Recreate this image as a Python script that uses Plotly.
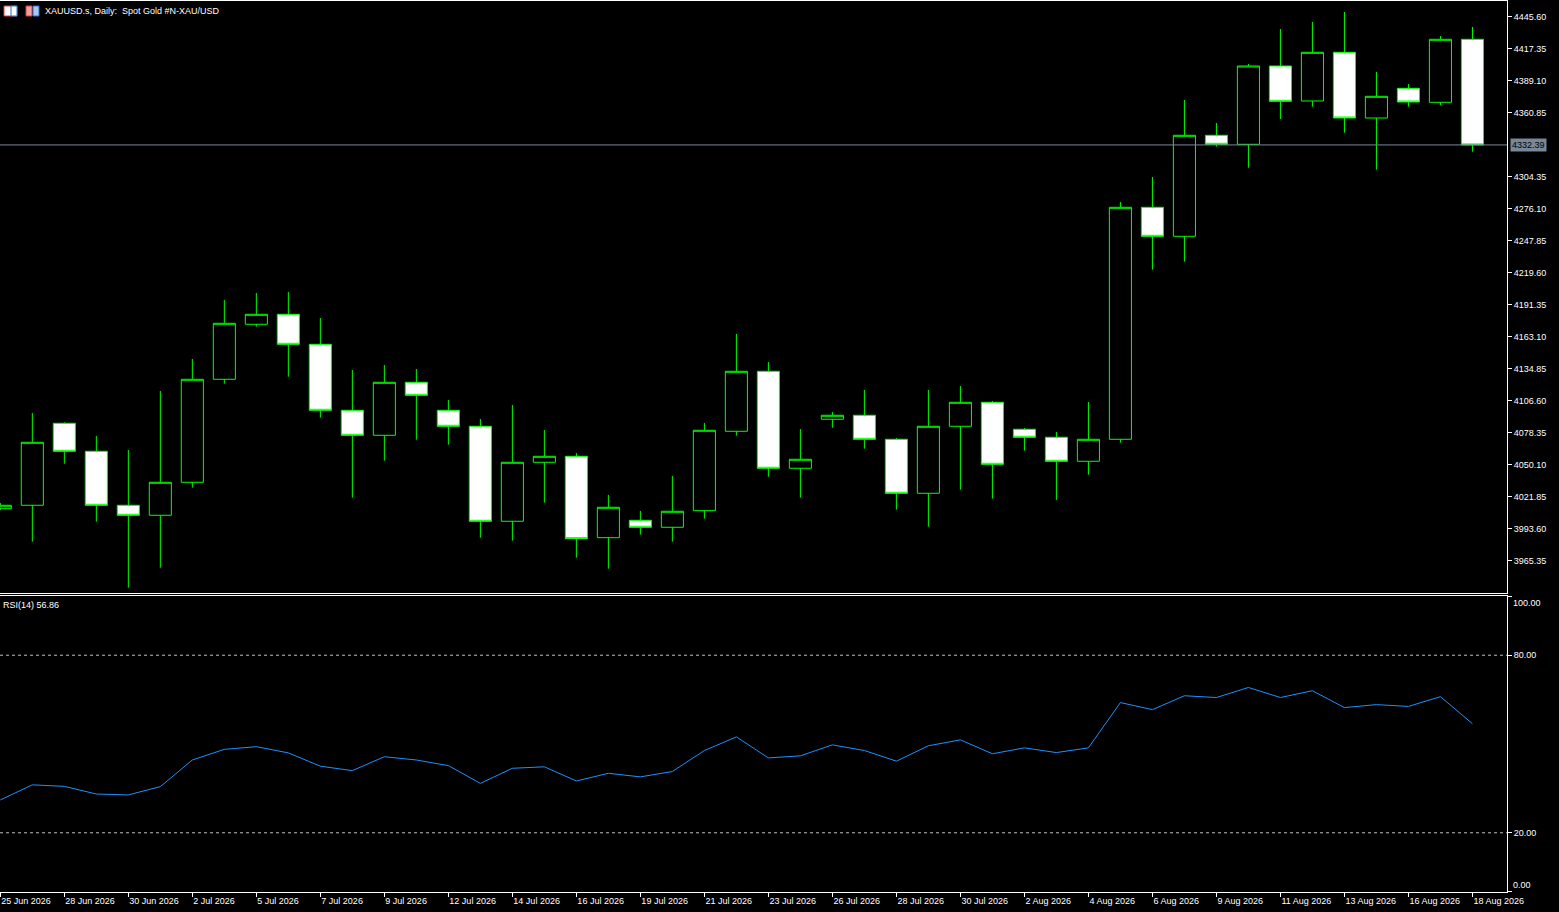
import plotly.graph_objects as go

# ---------------------------------------------------------------------------
# data (XAUUSD daily + RSI 14)
# ---------------------------------------------------------------------------
dates = ["25 Jun 2026", "26 Jun 2026", "28 Jun 2026", "29 Jun 2026", "30 Jun 2026",
         "1 Jul 2026", "2 Jul 2026", "3 Jul 2026", "5 Jul 2026", "6 Jul 2026",
         "7 Jul 2026", "8 Jul 2026", "9 Jul 2026", "10 Jul 2026", "12 Jul 2026",
         "13 Jul 2026", "14 Jul 2026", "15 Jul 2026", "16 Jul 2026", "17 Jul 2026",
         "19 Jul 2026", "20 Jul 2026", "21 Jul 2026", "22 Jul 2026", "23 Jul 2026",
         "24 Jul 2026", "26 Jul 2026", "27 Jul 2026", "28 Jul 2026", "29 Jul 2026",
         "30 Jul 2026", "31 Jul 2026", "2 Aug 2026", "3 Aug 2026", "4 Aug 2026",
         "5 Aug 2026", "6 Aug 2026", "7 Aug 2026", "9 Aug 2026", "10 Aug 2026",
         "11 Aug 2026", "12 Aug 2026", "13 Aug 2026", "14 Aug 2026", "16 Aug 2026",
         "17 Aug 2026", "18 Aug 2026"]

open_ = [4011.25, 4014.26, 4086.65, 4061.93, 4014.26, 4005.43, 4034.56, 4125.49, 4174.04, 4182.87,
         4156.39, 4098.12, 4076.05, 4122.84, 4098.12, 4084.00, 4000.13, 4052.22, 4057.51, 3985.65,
         4001.01, 3994.83, 4009.49, 4079.58, 4132.55, 4046.92, 4090.18, 4093.71, 4072.52, 4024.85,
         4084.00, 4105.18, 4081.35, 4074.29, 4053.10, 4072.52, 4277.33, 4251.73, 4340.90, 4332.95,
         4402.07, 4371.18, 4414.17, 4356.17, 4382.39, 4370.03, 4425.65]
high = [4016.29, 4095.74, 4087.53, 4075.43, 4063.08, 4115.16, 4143.41, 4195.50, 4201.68, 4202.56,
        4179.61, 4133.70, 4138.11, 4134.58, 4107.22, 4090.44, 4102.80, 4080.73, 4060.43, 4023.35,
        4009.22, 4040.12, 4086.91, 4165.48, 4140.76, 4081.61, 4096.62, 4116.04, 4073.67, 4116.04,
        4119.58, 4106.33, 4082.50, 4078.97, 4105.45, 4282.01, 4304.08, 4372.06, 4351.75, 4403.84,
        4434.74, 4440.92, 4449.75, 4396.78, 4386.18, 4428.56, 4436.50]
low = [4010.11, 3982.12, 4050.98, 3999.78, 3941.51, 3959.17, 4029.79, 4121.61, 4171.93, 4127.79,
       4091.59, 4020.96, 4053.63, 4072.17, 4067.75, 3985.65, 3983.00, 4016.55, 3968.00, 3958.29,
       3988.30, 3982.12, 4002.43, 4075.70, 4039.50, 4020.96, 4082.76, 4064.22, 4010.37, 3995.36,
       4028.03, 4020.08, 4062.46, 4018.93, 4041.27, 4069.52, 4222.25, 4229.31, 4330.83, 4312.29,
       4355.29, 4366.14, 4343.19, 4310.53, 4366.14, 4367.38, 4326.42]
close = [4014.26, 4069.87, 4061.93, 4014.26, 4005.43, 4034.56, 4125.49, 4174.93, 4182.87, 4156.39,
         4098.12, 4076.05, 4122.84, 4111.36, 4084.00, 4000.13, 4052.22, 4057.51, 3984.77, 4012.49,
         3994.83, 4008.96, 4080.47, 4132.55, 4046.92, 4054.87, 4093.71, 4072.52, 4024.85, 4084.00,
         4105.18, 4050.45, 4074.29, 4053.10, 4072.52, 4277.33, 4251.73, 4340.90, 4332.95, 4402.07,
         4370.91, 4414.17, 4356.17, 4375.33, 4370.29, 4425.65, 4332.39]

rsi = [31.1, 36.2, 35.7, 33.1, 32.8, 35.6, 44.6, 48.2, 49.1, 47.0,
       42.5, 41.0, 45.7, 44.6, 42.7, 36.7, 41.8, 42.3, 37.5, 40.1,
       38.9, 40.7, 47.8, 52.4, 45.3, 46.0, 49.7, 47.8, 44.2, 49.4,
       51.4, 46.7, 48.7, 47.1, 48.7, 64.0, 61.6, 66.3, 65.7, 69.1,
       65.7, 68.0, 62.3, 63.3, 62.7, 66.0, 56.86]

price_ticks = [3965.35, 3993.60, 4021.85, 4050.10, 4078.35, 4106.60, 4134.85, 4163.10,
               4191.35, 4219.60, 4247.85, 4276.10, 4304.35, 4360.85, 4389.10, 4417.35, 4445.60]
rsi_levels = [20, 80]
last_price = close[-1]

# ---------------------------------------------------------------------------
# figure
# ---------------------------------------------------------------------------
FONT = "Liberation Sans"
GREEN = "#00ff00"
SLATE = "#778899"

fig = go.Figure()

fig.add_trace(go.Candlestick(
    x=dates, open=open_, high=high, low=low, close=close,
    xaxis="x2", yaxis="y2",
    increasing=dict(fillcolor="black", line=dict(color=GREEN, width=1)),
    decreasing=dict(fillcolor="white", line=dict(color=GREEN, width=1)),
    whiskerwidth=0,
    hoverinfo="skip",
    showlegend=False,
))

fig.add_trace(go.Scatter(
    x=dates, y=rsi, mode="lines",
    line=dict(color="#1e90ff", width=1),
    xaxis="x", yaxis="y",
    hoverinfo="skip",
    showlegend=False,
))

axis_common = dict(showgrid=False, zeroline=False, linecolor="white", linewidth=1,
                   tickcolor="white", ticklen=4, tickwidth=1,
                   tickfont=dict(family=FONT, size=9, color="white"))

x_range = [-0.01, 47.08]

fig.update_layout(
    width=1559, height=912,
    margin=dict(l=0, r=52, t=1, b=20),
    paper_bgcolor="black", plot_bgcolor="black",
    boxgap=0.31, boxgroupgap=0,
    xaxis=dict(
        type="category", anchor="y", domain=[0, 1], range=x_range,
        showline=True, mirror=True, ticks="outside",
        tickvals=dates[::2], ticktext=dates[::2],
        ticklabelposition="outside right", tickangle=0,
        rangeslider=dict(visible=False),
        **axis_common,
    ),
    xaxis2=dict(
        type="category", anchor="y2", matches="x", range=x_range,
        showline=True, mirror=True, ticks="", showticklabels=False,
        rangeslider=dict(visible=False),
        **axis_common,
    ),
    yaxis=dict(
        domain=[0, 0.3322], side="right", range=[0, 100],
        showline=True, ticks="outside",
        tickvals=[0, 20, 80, 100], ticktext=["", "20.00", "80.00", ""],
        **axis_common,
    ),
    yaxis2=dict(
        domain=[0.3356, 1], side="right", range=[3936.83, 4459.46],
        showline=True, ticks="outside",
        tickvals=price_ticks, ticktext=["%.2f" % v for v in price_ticks],
        **axis_common,
    ),
)

# RSI 20 / 80 levels
for lvl in rsi_levels:
    fig.add_shape(type="line", xref="x domain", yref="y", x0=0, x1=1, y0=lvl, y1=lvl,
                  line=dict(color="#c0c0c0", width=1, dash="3px,3px"))

# current price line + label
fig.add_shape(type="line", xref="x2 domain", yref="y2", x0=0, x1=1,
              y0=last_price, y1=last_price, line=dict(color=SLATE, width=1))
fig.add_annotation(xref="paper", yref="y2", x=1, y=last_price, xanchor="left", xshift=3,
                   text="%.2f" % last_price, showarrow=False, bgcolor=SLATE,
                   borderpad=1, font=dict(family=FONT, size=9, color="black"))

# RSI end labels (MT4 draws them inside the window)
fig.add_annotation(xref="paper", yref="y", x=1, y=100, xanchor="left", yanchor="top",
                   xshift=4, text="100.00", showarrow=False,
                   font=dict(family=FONT, size=9, color="white"))
fig.add_annotation(xref="paper", yref="y", x=1, y=0, xanchor="left", yanchor="bottom",
                   xshift=4, text="0.00", showarrow=False,
                   font=dict(family=FONT, size=9, color="white"))

# indicator + chart captions
fig.add_annotation(xref="paper", yref="y", x=0, y=100, xanchor="left", yanchor="top",
                   xshift=1, yshift=-2, text="RSI(14) %.2f" % rsi[-1], showarrow=False,
                   font=dict(family=FONT, size=9, color="white"))
fig.add_annotation(xref="paper", yref="paper", x=0, y=1, xanchor="left", yanchor="top",
                   xshift=43, yshift=-3, text="XAUUSD.s, Daily:  Spot Gold #N-XAU/USD",
                   showarrow=False, font=dict(family=FONT, size=9, color="white"))

# two little MT4 header icons
def px_rect(x0, y0, x1, y1, **kw):
    fig.add_shape(type="rect", xref="paper", yref="paper",
                  x0=x0 / 1507, x1=x1 / 1507, y0=(892 - y0) / 891, y1=(892 - y1) / 891, **kw)

px_rect(4, 6, 17, 16, line=dict(color="#e03a3a", width=1), fillcolor="white")
px_rect(11, 6, 17, 16, line=dict(color="#2a6fd0", width=1), fillcolor="white")
px_rect(26, 6, 32, 16, line=dict(color="#e03a3a", width=1), fillcolor="#f0a0a0")
px_rect(33, 6, 39, 16, line=dict(color="#2a6fd0", width=1), fillcolor="#a8c8f0")

# the page's default 8px body margin would shift the whole chart
fig.write_html("out.html", config={"displayModeBar": False},
               post_script="document.body.style.margin='0px';document.body.style.background='black';")
